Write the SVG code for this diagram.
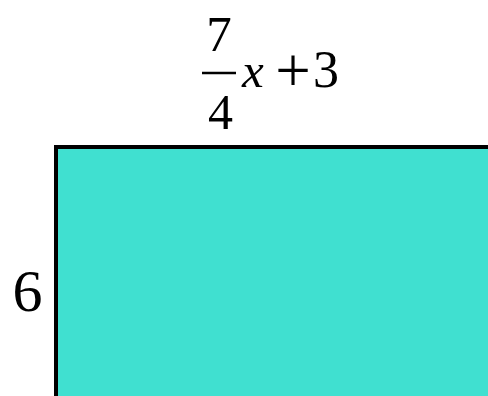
<svg xmlns="http://www.w3.org/2000/svg" width="488" height="396" viewBox="0 0 488 396">
<style>
.edge{stroke:#000;stroke-width:4;fill:none}
</style>
<g id="rect">
<rect x="56" y="147" width="440" height="260" fill="#40E0D0"/>
</g>
<g id="connectors">
<path class="edge" d="M56,398 V147 H490" stroke-linecap="square"/>
</g>
<g id="label-height" font-family="Liberation Serif" fill="#000">
<text x="27.5" y="311" font-size="60" text-anchor="middle">6</text>
</g>
<g id="label-width" font-family="Liberation Serif" fill="#000">
<text x="219" y="51" font-size="51" text-anchor="middle">7</text>
<line x1="202" y1="73" x2="236" y2="73" stroke="#000" stroke-width="2.5"/>
<text x="220.5" y="128.5" font-size="50" text-anchor="middle">4</text>
<text x="242" y="87" font-size="49" font-style="italic">x</text>
<text x="293" y="92" font-size="63" text-anchor="middle">+</text>
<text x="326" y="87" font-size="52" text-anchor="middle">3</text>
</g>
</svg>
